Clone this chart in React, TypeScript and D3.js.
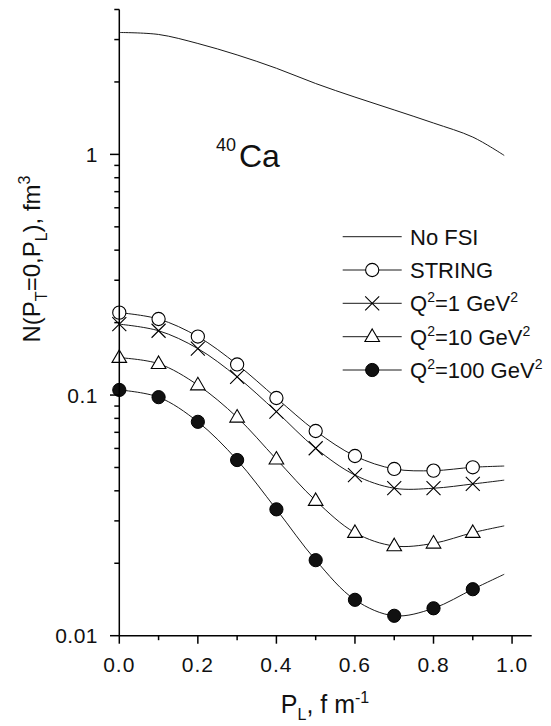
import React from "react";
import * as d3 from "d3";

// P_L grid: markers at 0..0.9, curves run on to 0.98
const pL = [0, 0.1, 0.2, 0.3, 0.4, 0.5, 0.6, 0.7, 0.8, 0.9, 0.98];

const noFsi = [3.21, 3.15, 2.89, 2.59, 2.28, 1.97, 1.73, 1.53, 1.35, 1.18, 0.99];
const stringVals = [0.22, 0.207, 0.175, 0.134, 0.0972, 0.0709, 0.0558, 0.0493, 0.0485, 0.0501, 0.0507];
const q1Vals = [0.197, 0.185, 0.156, 0.119, 0.0853, 0.0601, 0.0465, 0.041, 0.041, 0.0427, 0.0443];
const q10Vals = [0.143, 0.135, 0.11, 0.0808, 0.0541, 0.0364, 0.0268, 0.0236, 0.0242, 0.0268, 0.0286];
const q100Vals = [0.105, 0.098, 0.0774, 0.0537, 0.0335, 0.0206, 0.0141, 0.0121, 0.013, 0.0156, 0.018];

const xTicks = [0, 0.2, 0.4, 0.6, 0.8, 1.0];
const xMinor = [0.1, 0.3, 0.5, 0.7, 0.9];
const yTicks = [0.01, 0.1, 1];
const yTickLabels = ["0.01", "0.1", "1"];

const FONT = "'Liberation Sans', Arial, Helvetica, sans-serif";

type Marker = "none" | "circle" | "cross" | "triangle" | "dot";

const series: { key: string; values: number[]; marker: Marker }[] = [
  { key: "nofsi", values: noFsi, marker: "none" },
  { key: "string", values: stringVals, marker: "circle" },
  { key: "q1", values: q1Vals, marker: "cross" },
  { key: "q10", values: q10Vals, marker: "triangle" },
  { key: "q100", values: q100Vals, marker: "dot" },
];

function MarkerShape({ type, cx, cy }: { type: Marker; cx: number; cy: number }) {
  if (type === "circle")
    return <circle cx={cx} cy={cy} r={6.6} fill="#fff" stroke="#000" strokeWidth={1.1} />;
  if (type === "dot") return <circle cx={cx} cy={cy} r={6.6} fill="#111" stroke="#000" strokeWidth={1} />;
  if (type === "cross") {
    const s = 7;
    return (
      <path
        d={`M${cx - s},${cy - s}L${cx + s},${cy + s}M${cx - s},${cy + s}L${cx + s},${cy - s}`}
        stroke="#000"
        strokeWidth={1.1}
        fill="none"
      />
    );
  }
  if (type === "triangle") {
    const w = 7.3;
    const h = 12.5;
    return (
      <path
        d={`M${cx},${cy - h * 0.62}L${cx + w},${cy + h * 0.38}L${cx - w},${cy + h * 0.38}Z`}
        fill="#fff"
        stroke="#000"
        strokeWidth={1.1}
      />
    );
  }
  return null;
}

export default function App() {
  const width = 551;
  const height = 726;

  const x = d3.scaleLinear().domain([0, 1.05]).range([119.3, 531.7]);
  const y = d3.scaleLog().domain([0.01, 4]).range([635.7, 9.5]);

  const line = d3
    .line<number>()
    .x((_, i) => x(pL[i]))
    .y((d) => y(d))
    .curve(d3.curveCatmullRom.alpha(0.5));

  // minor log ticks 2..9 per decade
  const yMinor: number[] = [];
  [0.01, 0.1, 1].forEach((dec) => {
    for (let k = 2; k <= 9; k++) {
      const v = dec * k;
      if (v <= 4.0001) yMinor.push(v);
    }
  });

  const x0 = x(0);
  const yBase = y(0.01);

  const legendRows = [
    { label: "No FSI", marker: "none" as Marker, y: 236.7, q: null as string | null },
    { label: "STRING", marker: "circle" as Marker, y: 270, q: null },
    { label: "", marker: "cross" as Marker, y: 303.3, q: "1" },
    { label: "", marker: "triangle" as Marker, y: 336.7, q: "10" },
    { label: "", marker: "dot" as Marker, y: 370, q: "100" },
  ];

  return (
    <svg
      width={width}
      height={height}
      style={{ position: "absolute", left: 0, top: 0, background: "#fff" }}
      fontFamily={FONT}
    >
      <rect width={width} height={height} fill="#fff" />

      {/* curves */}
      {series.map((s) => (
        <path key={s.key} d={line(s.values) || ""} fill="none" stroke="#1a1a1a" strokeWidth={1} />
      ))}

      {/* markers */}
      {series.map((s) =>
        s.values
          .slice(0, 10)
          .map((v, i) => <MarkerShape key={s.key + i} type={s.marker} cx={x(pL[i])} cy={y(v)} />)
      )}

      {/* axes */}
      <g stroke="#000" strokeWidth={1.5}>
        <line x1={x0} x2={x0} y1={y(4)} y2={yBase} />
        <line x1={x0} x2={x(1.05)} y1={yBase} y2={yBase} />
        {yTicks.map((t) => (
          <line key={"yt" + t} x1={x0 - 9.3} x2={x0} y1={y(t)} y2={y(t)} />
        ))}
        {yMinor.map((t) => (
          <line key={"ym" + t} x1={x0 - 5} x2={x0} y1={y(t)} y2={y(t)} />
        ))}
        {xTicks.map((t) => (
          <line key={"xt" + t} x1={x(t)} x2={x(t)} y1={yBase} y2={yBase + 8} />
        ))}
        {xMinor.map((t) => (
          <line key={"xm" + t} x1={x(t)} x2={x(t)} y1={yBase} y2={yBase + 4.5} />
        ))}
      </g>

      {/* tick labels */}
      {yTicks.map((t, i) => (
        <text key={"yl" + t} x={98} y={y(t) + 7.5} textAnchor="end" fontSize={21} fill="#111" letterSpacing={0.5}>
          {yTickLabels[i]}
        </text>
      ))}
      {xTicks.map((t) => (
        <text key={"xl" + t} x={x(t)} y={672} textAnchor="middle" fontSize={21} fill="#111" letterSpacing={1}>
          {d3.format(".1f")(t)}
        </text>
      ))}

      {/* axis titles */}
      <text x={325} y={713} textAnchor="middle" fontSize={25} fill="#111">
        P
        <tspan fontSize={16} dy={7}>L</tspan>
        <tspan dy={-7}>, f m</tspan>
        <tspan fontSize={16} dy={-10}>-1</tspan>
      </text>
      <text transform="translate(40,259) rotate(-90)" textAnchor="middle" fontSize={24} fill="#111">
        N(P
        <tspan fontSize={16} dy={7}>T</tspan>
        <tspan dy={-7}>=0,P</tspan>
        <tspan fontSize={16} dy={7}>L</tspan>
        <tspan dy={-7}>), fm</tspan>
        <tspan fontSize={16} dy={-10}>3</tspan>
      </text>

      {/* nucleus label */}
      <text x={216} y={151} fontSize={18} fill="#111">40</text>
      <text x={239} y={167} fontSize={32} fill="#111">Ca</text>

      {/* legend */}
      {legendRows.map((r) => (
        <g key={"lg" + r.y}>
          <line x1={342.7} x2={401.7} y1={r.y} y2={r.y} stroke="#1a1a1a" strokeWidth={1} />
          <MarkerShape type={r.marker} cx={372.2} cy={r.y} />
          {r.q === null ? (
            <text x={410} y={r.y + 8} fontSize={22} fill="#111">
              {r.label}
            </text>
          ) : (
            <text x={410} y={r.y + 8} fontSize={22} fill="#111">
              Q<tspan fontSize={14} dy={-9}>2</tspan>
              <tspan dy={9}>={r.q} GeV</tspan>
              <tspan fontSize={14} dy={-9}>2</tspan>
            </text>
          )}
        </g>
      ))}
    </svg>
  );
}
